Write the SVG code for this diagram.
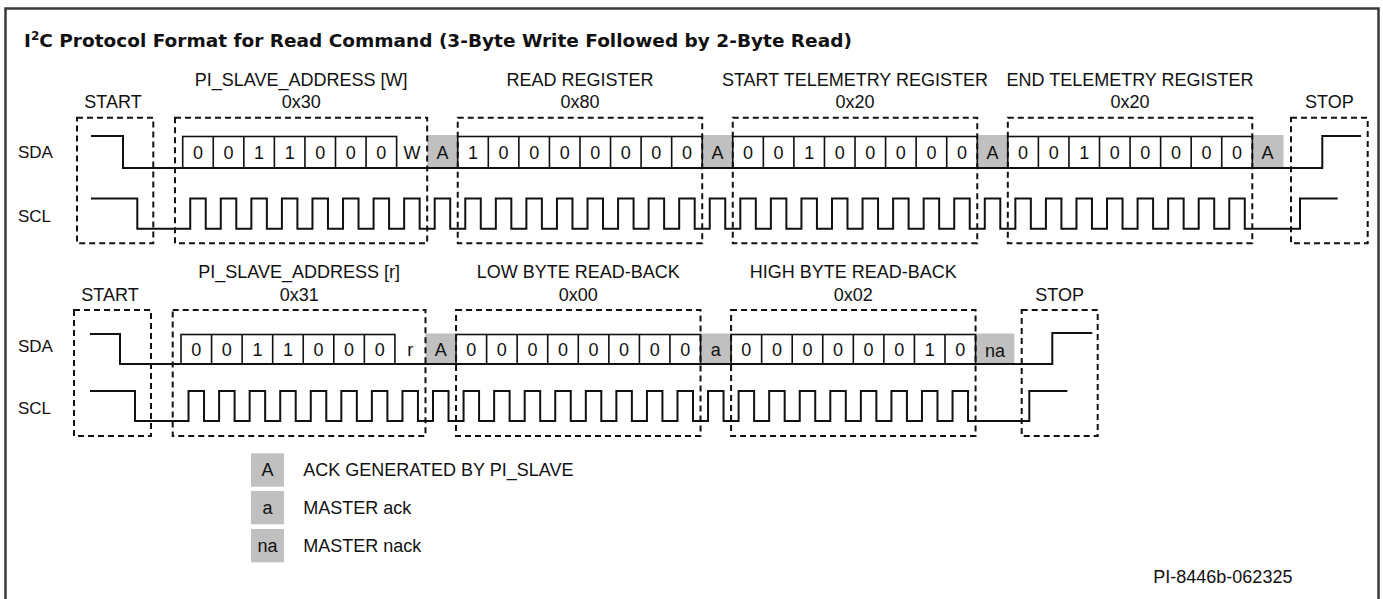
<svg xmlns="http://www.w3.org/2000/svg" width="1383" height="599" viewBox="0 0 1383 599">
<style>
text{font-family:"Liberation Sans",Arial,sans-serif;font-size:18px;fill:#111}
.title{font-family:"DejaVu Sans","Liberation Sans",sans-serif;font-weight:bold;font-size:18.5px}
.c{text-anchor:middle}
.lbl{font-size:17px}
.box{fill:none;stroke:#111;stroke-width:2;stroke-dasharray:6 4}
.wave{fill:none;stroke:#111;stroke-width:2;stroke-linejoin:miter}
.cell{fill:#fff;stroke:#111;stroke-width:1.6}
.div{stroke:#111;stroke-width:1.6}
.ack{fill:#c0c0c0}
</style>
<rect x="5.5" y="8.5" width="1373" height="600" fill="#fff" stroke="#3a3a3a" stroke-width="2.5"/>
<text class="title" x="24" y="46.7">I<tspan font-size="12" dy="-7">2</tspan><tspan dy="7">C Protocol Format for Read Command (3-Byte Write Followed by 2-Byte Read)</tspan></text>

<g id="row1">
  <g id="row1-labels">
    <text class="c" x="301.2" y="86">PI_SLAVE_ADDRESS [W]</text>
    <text class="c" x="580" y="86">READ REGISTER</text>
    <text class="c" x="855" y="86">START TELEMETRY REGISTER</text>
    <text class="c" x="1130" y="86">END TELEMETRY REGISTER</text>
    <text class="c" x="113" y="108">START</text>
    <text class="c" x="301.2" y="108">0x30</text>
    <text class="c" x="580" y="108">0x80</text>
    <text class="c" x="855" y="108">0x20</text>
    <text class="c" x="1130" y="108">0x20</text>
    <text class="c" x="1329.3" y="108">STOP</text>
    <text class="lbl" x="18" y="158">SDA</text>
    <text class="lbl" x="18" y="222">SCL</text>
  </g>
  <g id="row1-acks">
    <rect class="ack" x="427.18" y="135" width="30.56" height="33"/>
    <rect class="ack" x="702.22" y="135" width="30.56" height="33"/>
    <rect class="ack" x="977.26" y="135" width="30.56" height="33"/>
    <rect class="ack" x="1252.3" y="135" width="31.2" height="33"/>
  </g>
  <g id="row1-cells">
    <rect class="cell" x="182.7" y="136.5" width="213.92" height="31.5"/>
    <rect class="cell" x="457.74" y="136.5" width="244.48" height="31.5"/>
    <rect class="cell" x="732.78" y="136.5" width="244.48" height="31.5"/>
    <rect class="cell" x="1007.82" y="136.5" width="244.48" height="31.5"/>
    <path class="div" d="M213.26,136.5V168M243.82,136.5V168M274.38,136.5V168M304.94,136.5V168M335.5,136.5V168M366.06,136.5V168M488.3,136.5V168M518.86,136.5V168M549.42,136.5V168M579.98,136.5V168M610.54,136.5V168M641.1,136.5V168M671.66,136.5V168M763.34,136.5V168M793.9,136.5V168M824.46,136.5V168M855.02,136.5V168M885.58,136.5V168M916.14,136.5V168M946.7,136.5V168M1038.38,136.5V168M1068.94,136.5V168M1099.5,136.5V168M1130.06,136.5V168M1160.62,136.5V168M1191.18,136.5V168M1221.74,136.5V168"/>
    <text class="c" x="197.98 228.54 259.1 289.66 320.22 350.78 381.34 411.9 442.46" y="158.8">0011000WA</text>
    <text class="c" x="473.02 503.58 534.14 564.7 595.26 625.82 656.38 686.94 717.5" y="158.8">10000000A</text>
    <text class="c" x="748.06 778.62 809.18 839.74 870.3 900.86 931.42 961.98 992.54" y="158.8">00100000A</text>
    <text class="c" x="1023.1 1053.66 1084.22 1114.78 1145.34 1175.9 1206.46 1237.02 1267.58" y="158.8">00100000A</text>
  </g>
  <g id="row1-waves">
    <path class="wave" d="M91,136H123V168H1322.3V136H1361"/>
    <path class="wave" d="M91,198.5H137.3V228.7H190.23v-30.2h15.5v30.2h15.06v-30.2h15.5v30.2h15.06v-30.2h15.5v30.2h15.06v-30.2h15.5v30.2h15.06v-30.2h15.5v30.2h15.06v-30.2h15.5v30.2h15.06v-30.2h15.5v30.2h15.06v-30.2h15.5v30.2h15.06v-30.2h15.5v30.2h15.06v-30.2h15.5v30.2h15.06v-30.2h15.5v30.2h15.06v-30.2h15.5v30.2h15.06v-30.2h15.5v30.2h15.06v-30.2h15.5v30.2h15.06v-30.2h15.5v30.2h15.06v-30.2h15.5v30.2h15.06v-30.2h15.5v30.2h15.06v-30.2h15.5v30.2h15.06v-30.2h15.5v30.2h15.06v-30.2h15.5v30.2h15.06v-30.2h15.5v30.2h15.06v-30.2h15.5v30.2h15.06v-30.2h15.5v30.2h15.06v-30.2h15.5v30.2h15.06v-30.2h15.5v30.2h15.06v-30.2h15.5v30.2h15.06v-30.2h15.5v30.2h15.06v-30.2h15.5v30.2h15.06v-30.2h15.5v30.2h15.06v-30.2h15.5v30.2h15.06v-30.2h15.5v30.2h15.06v-30.2h15.5v30.2h15.06v-30.2h15.5v30.2h15.06v-30.2h15.5v30.2h15.06v-30.2h15.5v30.2H1300V198.5H1337.7"/>
  </g>
  <g id="row1-boxes">
    <rect class="box" x="77" y="117.7" width="76.3" height="125.6"/>
    <rect class="box" x="175" y="117.7" width="252.18" height="125.6"/>
    <rect class="box" x="457.74" y="117.7" width="244.48" height="125.6"/>
    <rect class="box" x="732.78" y="117.7" width="244.48" height="125.6"/>
    <rect class="box" x="1007.82" y="117.7" width="244.48" height="125.6"/>
    <rect class="box" x="1291" y="117.7" width="76.7" height="125.6"/>
  </g>
</g>

<g id="row2">
  <g id="row2-labels">
    <text class="c" x="299.2" y="277.5">PI_SLAVE_ADDRESS [r]</text>
    <text class="c" x="578.3" y="277.5">LOW BYTE READ-BACK</text>
    <text class="c" x="853.3" y="277.5">HIGH BYTE READ-BACK</text>
    <text class="c" x="110" y="300.5">START</text>
    <text class="c" x="299.2" y="300.5">0x31</text>
    <text class="c" x="578.3" y="300.5">0x00</text>
    <text class="c" x="853.3" y="300.5">0x02</text>
    <text class="c" x="1059.7" y="300.5">STOP</text>
    <text class="lbl" x="18" y="351.5">SDA</text>
    <text class="lbl" x="18" y="413.5">SCL</text>
  </g>
  <g id="row2-acks">
    <rect class="ack" x="425.48" y="333.5" width="30.56" height="30.5"/>
    <rect class="ack" x="700.52" y="333.5" width="30.56" height="30.5"/>
    <rect class="ack" x="975.56" y="333.5" width="38.74" height="30.5"/>
  </g>
  <g id="row2-cells">
    <rect class="cell" x="181" y="334.5" width="213.92" height="29.5"/>
    <rect class="cell" x="456.04" y="334.5" width="244.48" height="29.5"/>
    <rect class="cell" x="731.08" y="334.5" width="244.48" height="29.5"/>
    <path class="div" d="M211.56,334.5V364M242.12,334.5V364M272.68,334.5V364M303.24,334.5V364M333.8,334.5V364M364.36,334.5V364M486.6,334.5V364M517.16,334.5V364M547.72,334.5V364M578.28,334.5V364M608.84,334.5V364M639.4,334.5V364M669.96,334.5V364M761.64,334.5V364M792.2,334.5V364M822.76,334.5V364M853.32,334.5V364M883.88,334.5V364M914.44,334.5V364M945,334.5V364"/>
    <text class="c" x="196.28 226.84 257.4 287.96 318.52 349.08 379.64 410.2 440.76" y="355.5">0011000rA</text>
    <text class="c" x="471.32 501.88 532.44 563 593.56 624.12 654.68 685.24 715.8" y="355.5">00000000a</text>
    <text class="c" x="746.36 776.92 807.48 838.04 868.6 899.16 929.72 960.28" y="355.5">00000010</text>
    <text class="c" x="994.9" y="357">na</text>
  </g>
  <g id="row2-waves">
    <path class="wave" d="M90,334H120V364H1052.3V333H1092.3"/>
    <path class="wave" d="M90,391H135V421H188.53v-30h15.5v30h15.06v-30h15.5v30h15.06v-30h15.5v30h15.06v-30h15.5v30h15.06v-30h15.5v30h15.06v-30h15.5v30h15.06v-30h15.5v30h15.06v-30h15.5v30h15.06v-30h15.5v30h15.06v-30h15.5v30h15.06v-30h15.5v30h15.06v-30h15.5v30h15.06v-30h15.5v30h15.06v-30h15.5v30h15.06v-30h15.5v30h15.06v-30h15.5v30h15.06v-30h15.5v30h15.06v-30h15.5v30h15.06v-30h15.5v30h15.06v-30h15.5v30h15.06v-30h15.5v30h15.06v-30h15.5v30h15.06v-30h15.5v30h15.06v-30h15.5v30h15.06v-30h15.5v30h15.06v-30h15.5v30H1029.3V391H1067.3"/>
  </g>
  <g id="row2-boxes">
    <rect class="box" x="74" y="310" width="77" height="126"/>
    <rect class="box" x="172.7" y="310" width="252.78" height="126"/>
    <rect class="box" x="456.04" y="310" width="244.48" height="126"/>
    <rect class="box" x="731.08" y="310" width="244.48" height="126"/>
    <rect class="box" x="1021.7" y="310" width="76" height="126"/>
  </g>
</g>

<g id="legend">
  <g id="legend-A">
    <rect class="ack" x="251" y="453.3" width="33" height="33.4"/>
    <text class="c" x="267.5" y="476">A</text>
    <text x="303.3" y="476">ACK GENERATED BY PI_SLAVE</text>
  </g>
  <g id="legend-a">
    <rect class="ack" x="251" y="491" width="33" height="33.3"/>
    <text class="c" x="267.5" y="513.5">a</text>
    <text x="303.3" y="513.5">MASTER ack</text>
  </g>
  <g id="legend-na">
    <rect class="ack" x="251" y="529" width="33" height="33.3"/>
    <text class="c" x="267.5" y="551.5">na</text>
    <text x="303.3" y="551.5">MASTER nack</text>
  </g>
</g>
<text x="1153.3" y="583.3" font-size="17.5">PI-8446b-062325</text>
</svg>
